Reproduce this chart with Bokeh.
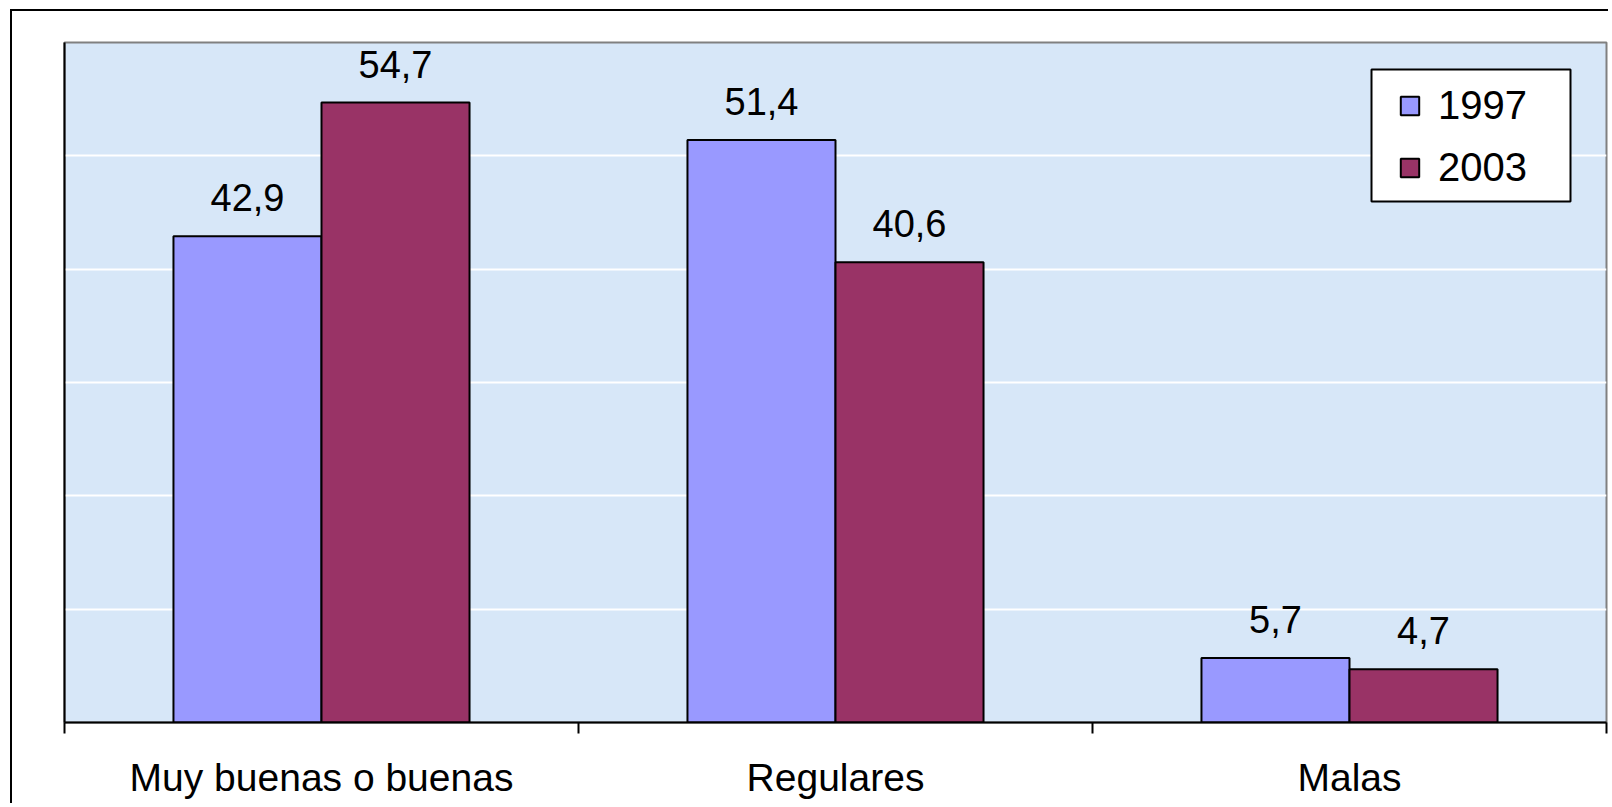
from bokeh.plotting import figure
from bokeh.models import (Range1d, FixedTicker, LabelSet, ColumnDataSource,
                          Legend, LegendItem, BoxAnnotation)
from bokeh.core.properties import value
from bokeh.transform import dodge
from bokeh.embed import file_html
from bokeh.resources import INLINE

categories = ["Muy buenas o buenas", "Regulares", "Malas"]
series_names = ["1997", "2003"]
values_1997 = [42.9, 51.4, 5.7]
values_2003 = [54.7, 40.6, 4.7]
series_colors = ["#9999FF", "#993366"]
grid_values = [10, 20, 30, 40, 50]

FONT = "Liberation Sans"
BAR_W = 0.288

centres = [i + 0.5 for i in range(len(categories))]
boundaries = [float(i) for i in range(len(categories) + 1)]

def fmt(v):
    return f"{v:.1f}".replace(".", ",")

source = ColumnDataSource(dict(
    x=centres,
    v1997=values_1997,
    v2003=values_2003,
    l1997=[fmt(v) for v in values_1997],
    l2003=[fmt(v) for v in values_2003],
))

p = figure(width=1598, height=794, output_backend="svg", toolbar_location=None,
           x_range=Range1d(0, len(categories)), y_range=Range1d(0, 60),
           min_border_left=52, min_border_right=4, min_border_top=31,
           min_border_bottom=83)
p.styles = {"border-left": "2px solid black", "border-top": "2px solid black",
            "margin-left": "10px", "margin-top": "9px"}

p.background_fill_color = "#D7E7F8"
p.border_fill_color = "white"
p.outline_line_color = "#808080"
p.outline_line_width = 2

r1 = p.vbar(x=dodge("x", -BAR_W / 2), top="v1997", width=BAR_W, source=source,
            fill_color=series_colors[0], line_color="black", line_width=2)
r2 = p.vbar(x=dodge("x", BAR_W / 2), top="v2003", width=BAR_W, source=source,
            fill_color=series_colors[1], line_color="black", line_width=2)

for col, off in (("l1997", -BAR_W / 2), ("l2003", BAR_W / 2)):
    ycol = "v" + col[1:]
    p.add_layout(LabelSet(x=dodge("x", off), y=ycol, text=col, source=source,
                          text_align="center", text_baseline="alphabetic",
                          y_offset=25, text_font=value(FONT),
                          text_font_size=value("38px"),
                          text_color=value("black")))

# y axis: only the line; white gridlines
p.yaxis.ticker = FixedTicker(ticks=[])
p.yaxis.major_tick_line_color = None
p.yaxis.minor_tick_line_color = None
p.yaxis.axis_line_color = "black"
p.yaxis.axis_line_width = 2
p.ygrid.ticker = FixedTicker(ticks=grid_values)
p.ygrid.grid_line_color = "white"
p.ygrid.grid_line_width = 2
p.xgrid.grid_line_color = None

# x axis: labels at centres, ticks at boundaries
p.xaxis.ticker = FixedTicker(ticks=centres, minor_ticks=boundaries)
p.xaxis.major_label_overrides = {c: name for c, name in zip(centres, categories)}
p.xaxis.major_tick_line_color = None
p.xaxis.major_tick_out = 0
p.xaxis.major_tick_in = 0
p.xaxis.minor_tick_line_color = "black"
p.xaxis.minor_tick_line_width = 2
p.xaxis.minor_tick_out = 11
p.xaxis.minor_tick_in = 0
p.xaxis.axis_line_color = "black"
p.xaxis.axis_line_width = 2
p.xaxis.major_label_text_font = FONT
p.xaxis.major_label_text_font_size = "39px"
p.xaxis.major_label_text_color = "black"
p.xaxis.major_label_standoff = 22

# legend frame (white box with black border), in canvas pixels
legend_box = BoxAnnotation(left=1357, right=1556, top=56, bottom=188,
                           left_units="canvas", right_units="canvas",
                           top_units="canvas", bottom_units="canvas",
                           fill_color="white", fill_alpha=1,
                           line_color="black", line_width=2, line_alpha=1)
p.add_layout(legend_box)

legend = Legend(items=[LegendItem(label=series_names[0], renderers=[r1]),
                       LegendItem(label=series_names[1], renderers=[r2])],
                location=(1334, 532))
legend.border_line_color = None
legend.background_fill_alpha = 0
legend.label_text_font = FONT
legend.label_text_font_size = "40px"
legend.label_text_color = "black"
legend.glyph_width = 23
legend.glyph_height = 23
legend.label_standoff = 17
legend.spacing = 17
legend.padding = 12
legend.margin = 0
p.add_layout(legend)

open("out.html", "w").write(file_html(p, INLINE))
